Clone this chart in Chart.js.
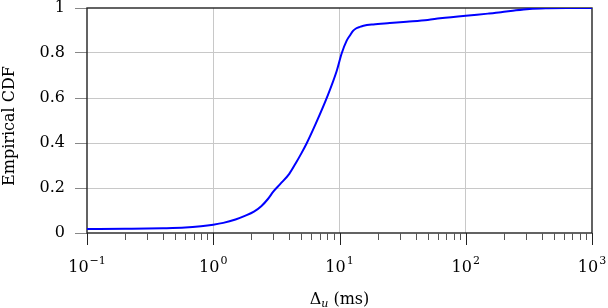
<!DOCTYPE html>
<html><head><meta charset="utf-8">
<script src="https://cdn.jsdelivr.net/npm/chart.js@4"></script>
<style>html,body{margin:0;padding:0;background:#fff}#wrap{width:608px;height:308px}</style>
</head><body><div id="wrap"><canvas id="c" width="608" height="308"></canvas></div>
<script>
// ---- data ----
const delayMs = [0.1, 0.2, 0.4, 0.6, 0.8, 1.0, 1.2, 1.5, 1.8, 2.1, 2.4, 2.7, 3.0, 3.4, 4.0, 4.5, 5.0, 5.5, 6.5, 8.0, 9.5, 10.4, 11.4, 12.1, 12.8, 13.5, 14.5, 15.5, 18.5, 25, 34, 50, 62.5, 100, 150, 190, 250, 320, 450, 630, 1000];
const cdf     = [0.018, 0.019, 0.021, 0.024, 0.030, 0.037, 0.045, 0.060, 0.077, 0.095, 0.119, 0.150, 0.185, 0.218, 0.263, 0.310, 0.355, 0.399, 0.487, 0.606, 0.720, 0.798, 0.855, 0.878, 0.898, 0.909, 0.916, 0.921, 0.927, 0.933, 0.939, 0.947, 0.954, 0.966, 0.975, 0.981, 0.990, 0.996, 0.999, 1.0, 1.0];
const xMajorTicks     = [0.1, 1, 10, 100, 1000];
const xMajorBase      = ['10', '10', '10', '10', '10'];
const xMajorExponents = ['\u22121', '0', '1', '2', '3'];
const xMinorSteps     = [2, 3, 4, 5, 6, 7, 8, 9];
const yTicks       = [0, 0.2, 0.4, 0.6, 0.8, 1];
const yTickLabels  = ['0', '0.2', '0.4', '0.6', '0.8', '1'];
const xTitleParts  = ['\u0394', 'u', ' (ms)'];
const yTitle       = 'Empirical CDF';

const FONT = 'DejaVu Serif';
const isMajor = v => xMajorTicks.some(m => Math.abs(Math.log10(v) - Math.log10(m)) < 1e-6);
const xMinor = [];
xMajorTicks.slice(0, -1).forEach(m => xMinorSteps.forEach(s => xMinor.push(m * s)));
const allXTicks = xMajorTicks.concat(xMinor).sort((a, b) => a - b);

const zeroPad = s => { s.paddingLeft = 0; s.paddingRight = 0; s.paddingTop = 0; s.paddingBottom = 0; };

const framePlugin = {
  id: 'frame',
  beforeDatasetsDraw(chart) {
    const {ctx, chartArea: a} = chart;
    ctx.save();
    ctx.strokeStyle = '#222';
    ctx.lineWidth = 1.4;
    ctx.strokeRect(a.left, a.top, a.right - a.left, a.bottom - a.top);
    const xs = chart.scales.x;
    allXTicks.forEach(v => {
      const px = Math.round(xs.getPixelForValue(v)) + 0.5;
      const maj = isMajor(v);
      ctx.beginPath();
      ctx.strokeStyle = maj ? '#222' : '#555';
      ctx.lineWidth = 1;
      ctx.moveTo(px, a.bottom);
      ctx.lineTo(px, a.bottom + (maj ? 12 : 7));
      ctx.stroke();
    });
    ctx.restore();
  },
  afterDraw(chart) {
    const {ctx, chartArea: a} = chart;
    const xs = chart.scales.x;
    ctx.save();
    ctx.fillStyle = '#000';
    ctx.textBaseline = 'alphabetic'; ctx.textAlign = 'left';
    const f1 = '16px "' + FONT + '"', fs = '11px "' + FONT + '"', f2 = 'italic 11px "' + FONT + '"';
    // x tick labels with real superscripts
    xMajorTicks.forEach((v, i) => {
      ctx.font = f1; const wb = ctx.measureText(xMajorBase[i]).width;
      ctx.font = fs; const we = ctx.measureText(xMajorExponents[i]).width;
      const px = xs.getPixelForValue(v);
      let x0 = px - (wb + 1 + we) / 2;
      ctx.font = f1; ctx.fillText(xMajorBase[i], x0, 272);
      ctx.font = fs; ctx.fillText(xMajorExponents[i], x0 + wb + 1, 264);
    });
    // x title with subscript
    ctx.font = f1; const w0 = ctx.measureText(xTitleParts[0]).width;
    const w2 = ctx.measureText(xTitleParts[2]).width;
    ctx.font = f2; const w1 = ctx.measureText(xTitleParts[1]).width;
    const total = w0 + w1 + w2;
    let x = (a.left + a.right) / 2 - total / 2;
    const base = 304;
    ctx.font = f1; ctx.fillText(xTitleParts[0], x, base); x += w0;
    ctx.font = f2; ctx.fillText(xTitleParts[1], x, base + 3); x += w1;
    ctx.font = f1; ctx.fillText(xTitleParts[2], x, base);
    // y title
    ctx.translate(14, 126);
    ctx.rotate(-Math.PI / 2);
    ctx.textAlign = 'center';
    ctx.font = f1;
    ctx.fillText(yTitle, 0, 0);
    ctx.restore();
  }
};

new Chart(document.getElementById('c'), {
  type: 'line',
  data: {
    labels: delayMs,
    datasets: [{
      data: delayMs.map((v, i) => ({x: v, y: cdf[i]})),
      borderColor: '#0000ff',
      borderWidth: 2,
      pointRadius: 0,
      fill: false,
      cubicInterpolationMode: 'monotone'
    }]
  },
  plugins: [framePlugin],
  options: {
    responsive: false,
    animation: false,
    events: [],
    layout: {padding: {top: 8, right: 16, left: 0, bottom: 0}},
    plugins: {legend: {display: false}, tooltip: {enabled: false}, title: {display: false}},
    scales: {
      x: {
        type: 'logarithmic',
        min: 0.1, max: 1000,
        afterBuildTicks: s => { s.ticks = allXTicks.map(v => ({value: v, major: isMajor(v)})); },
        afterFit: s => { s.height = 75; zeroPad(s); },
        border: {display: false},
        grid: {
          drawTicks: false,
          color: c => (c.tick && isMajor(c.tick.value) && c.tick.value > 0.1 && c.tick.value < 1000) ? '#c8c8c8' : 'rgba(0,0,0,0)',
          lineWidth: 1
        },
        ticks: {display: false, autoSkip: false, maxRotation: 0, minRotation: 0}
      },
      y: {
        type: 'linear',
        min: 0, max: 1,
        afterBuildTicks: s => { s.ticks = yTicks.map(v => ({value: v})); },
        afterFit: s => { s.width = 87; zeroPad(s); },
        border: {display: false},
        grid: {
          color: c => (c.tick && c.tick.value > 0 && c.tick.value < 1) ? '#c8c8c8' : 'rgba(0,0,0,0)',
          tickColor: '#888',
          tickLength: 12,
          lineWidth: 1
        },
        ticks: {
          padding: 10,
          color: '#000',
          font: {family: FONT, size: 16, lineHeight: 1},
          callback: (v, i) => yTickLabels[i]
        }
      }
    }
  }
});
</script></body></html>
